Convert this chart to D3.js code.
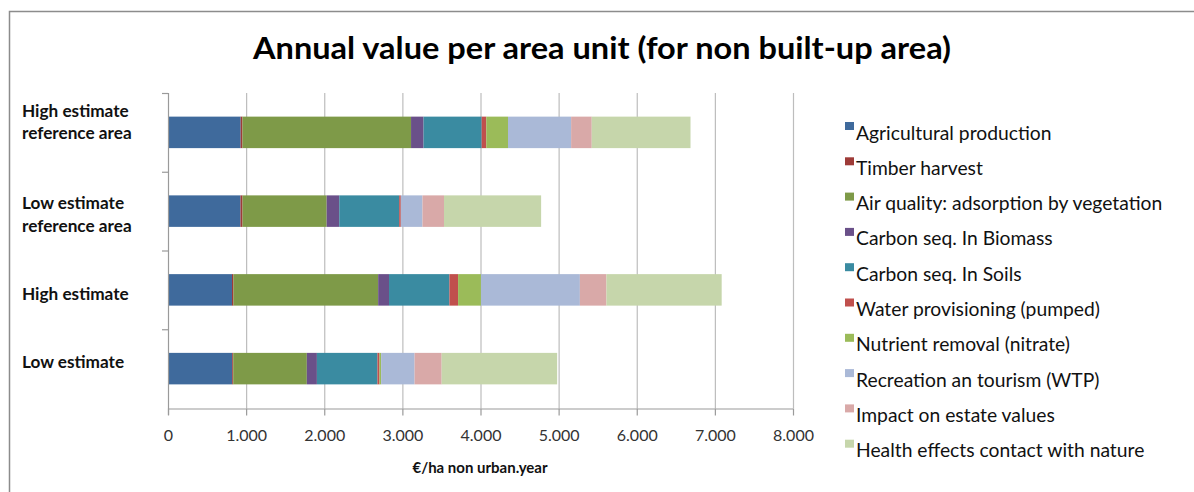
<!DOCTYPE html>
<html>
<head>
<meta charset="utf-8">
<script src="https://cdn.jsdelivr.net/npm/d3@7"></script>
<style>
  html, body { margin: 0; padding: 0; background: #fff; }
  svg { display: block; font-family: Lato, "Open Sans", sans-serif; }
</style>
</head>
<body>
<svg id="chart" width="1194" height="492"></svg>
<script>
// Scenario rows, top to bottom
const categories = [
  ["High estimate", "reference area"],
  ["Low estimate", "reference area"],
  ["High estimate"],
  ["Low estimate"]
];
const categoryKeys = ["highRef", "lowRef", "high", "low"];

// Ecosystem service components (stack order, left to right)
const services = [
  "Agricultural production",
  "Timber harvest",
  "Air quality: adsorption by vegetation",
  "Carbon seq. In Biomass",
  "Carbon seq. In Soils",
  "Water provisioning (pumped)",
  "Nutrient removal (nitrate)",
  "Recreation an tourism (WTP)",
  "Impact on estate values",
  "Health effects contact with nature"
];
const colors = [
  "#3F6A9C", "#9E3B38", "#7E9A48", "#6A5089", "#3A8BA1",
  "#C0504D", "#9BBB59", "#AAB9D7", "#D9A9A8", "#C6D6AB"
];

// €/ha non urban per year, one value per service
const highRef = [930, 23, 2158, 160, 744, 59, 278, 808, 264, 1264];
const lowRef  = [928, 26, 1077, 161, 767, 21, 0, 277, 276, 1243];
const high    = [819, 19, 1852, 139, 773, 111, 293, 1266, 340, 1475];
const low     = [822, 13, 942, 129, 775, 26, 21, 428, 347, 1478];

const xTicks = [0, 1000, 2000, 3000, 4000, 5000, 6000, 7000, 8000];
const tickLabels = ["0", "1.000", "2.000", "3.000", "4.000", "5.000", "6.000", "7.000", "8.000"];

const title = "Annual value per area unit (for non built-up area)";
const xTitle = "€/ha non urban.year";

// Build rows for d3.stack
const seriesByKey = { highRef, lowRef, high, low };
const rows = categoryKeys.map(k => {
  const r = { key: k };
  services.forEach((s, i) => { r[s] = seriesByKey[k][i]; });
  return r;
});

const svg = d3.select("#chart");
const plot = { left: 168, right: 793, top: 93, bottom: 408 };

// Outer frame
svg.append("rect")
  .attr("x", 9.5).attr("y", 11.5)
  .attr("width", 1200).attr("height", 500)
  .attr("fill", "none").attr("stroke", "#8c8c8c").attr("stroke-width", 1.5);

// Title
svg.append("text")
  .attr("x", 602).attr("y", 59)
  .attr("text-anchor", "middle")
  .attr("font-size", 30).attr("font-weight", 700)
  .attr("fill", "#000")
  .attr("textLength", 698).attr("lengthAdjust", "spacingAndGlyphs")
  .text(title);

const x = d3.scaleLinear().domain([0, 8000]).range([plot.left, plot.right]);
const y = d3.scaleBand().domain(categoryKeys).range([plot.top, plot.bottom]).paddingInner(0.6).paddingOuter(0.3);
const yGrid = d3.scaleBand().domain(categoryKeys).range([plot.top, plot.bottom]);

// Vertical gridlines
svg.append("g").selectAll("line")
  .data(xTicks.slice(1))
  .join("line")
  .attr("x1", d => x(d) + 0.5).attr("x2", d => x(d) + 0.5)
  .attr("y1", plot.top).attr("y2", plot.bottom)
  .attr("stroke", "#bdbdbd").attr("stroke-width", 1.2);

// Stacked bars
const stack = d3.stack().keys(services);
const layers = stack(rows);
svg.append("g").selectAll("g")
  .data(layers)
  .join("g")
  .attr("fill", (d, i) => colors[i])
  .selectAll("rect")
  .data(d => d)
  .join("rect")
  .attr("x", d => x(d[0]))
  .attr("width", d => Math.max(0, x(d[1]) - x(d[0])))
  .attr("y", d => y(d.data.key))
  .attr("height", y.bandwidth());

// X axis
const xAxis = d3.axisBottom(x)
  .tickValues(xTicks)
  .tickFormat((d, i) => tickLabels[i])
  .tickSize(7)
  .tickSizeOuter(0)
  .tickPadding(14);
const gx = svg.append("g")
  .attr("transform", `translate(0,${plot.bottom + 0.5})`)
  .call(xAxis);
gx.select(".domain").attr("stroke", "#9a9a9a").attr("stroke-width", 1.2);
gx.selectAll(".tick line").attr("stroke", "#9a9a9a").attr("stroke-width", 1.2);
gx.selectAll(".tick text")
  .attr("font-family", "Lato, sans-serif")
  .attr("font-size", 16).attr("fill", "#333");

// Y axis: line and category separators
const gy = svg.append("g");
gy.append("line")
  .attr("x1", plot.left + 0.5).attr("x2", plot.left + 0.5)
  .attr("y1", plot.top).attr("y2", plot.bottom + 7)
  .attr("stroke", "#9a9a9a").attr("stroke-width", 1.2);
const sepYs = categoryKeys.map(k => yGrid(k));
gy.selectAll("line.sep")
  .data(sepYs)
  .join("line")
  .attr("class", "sep")
  .attr("x1", plot.left - 6).attr("x2", plot.left)
  .attr("y1", d => d + 0.5).attr("y2", d => d + 0.5)
  .attr("stroke", "#9a9a9a").attr("stroke-width", 1.2);

// Category labels (first-line baseline offset from each band centre)
const labelShift = [-15.5, -2, 10, -0.3];
const labelG = svg.append("g");
categories.forEach((lines, i) => {
  const cy = yGrid(categoryKeys[i]) + yGrid.bandwidth() / 2;
  const t = labelG.append("text")
    .attr("x", 22)
    .attr("font-size", 17.2).attr("font-weight", 700).attr("fill", "#111");
  const lh = 22.5;
  lines.forEach((ln, j) => {
    t.append("tspan").attr("x", 22).attr("y", cy + labelShift[i] + j * lh).text(ln);
  });
});

// X axis title
svg.append("text")
  .attr("x", 480).attr("y", 473)
  .attr("text-anchor", "middle")
  .attr("font-size", 15).attr("font-weight", 700).attr("fill", "#111")
  .text(xTitle);

// Legend
const legend = svg.append("g").attr("transform", "translate(845,122)");
const item = legend.selectAll("g")
  .data(services)
  .join("g")
  .attr("transform", (d, i) => `translate(0,${i * 35.3})`);
item.append("rect")
  .attr("width", 9).attr("height", 8)
  .attr("fill", (d, i) => colors[i]);
item.append("text")
  .attr("x", 11).attr("y", 17.5)
  .attr("font-size", 19.3).attr("fill", "#111")
  .text(d => d);
</script>
</body>
</html>
